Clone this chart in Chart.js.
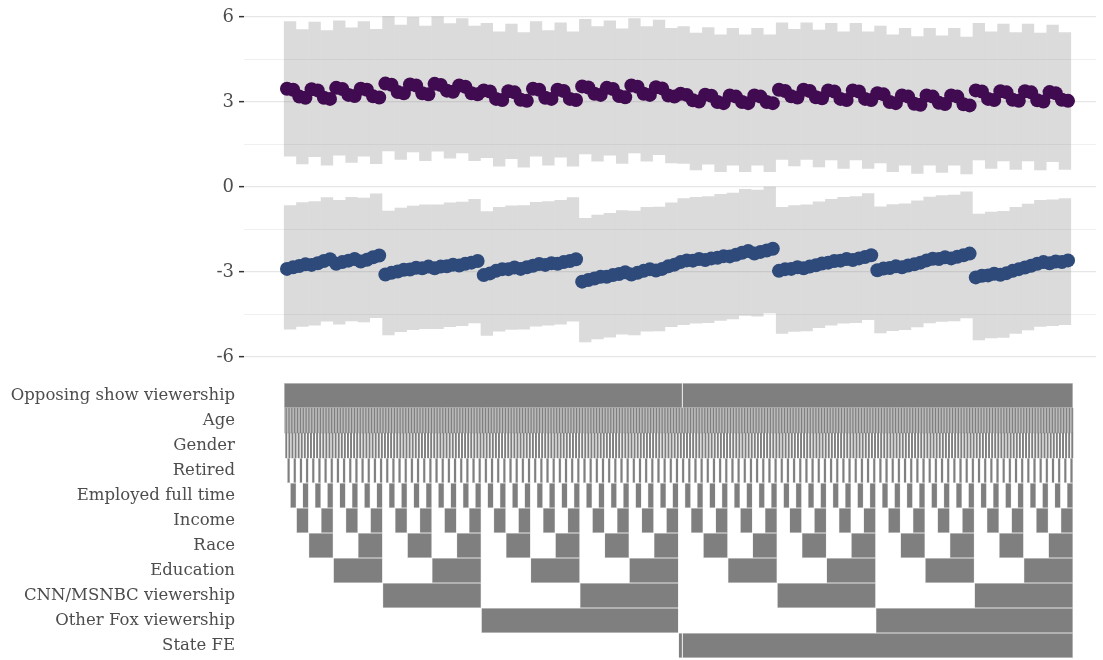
<!DOCTYPE html>
<html><head><meta charset="utf-8">
<script src="https://cdn.jsdelivr.net/npm/chart.js@4.4.1/dist/chart.umd.min.js"></script>
<style>
html,body{margin:0;padding:0;background:#fff;overflow:hidden;width:1103px;height:660px;}
#top{position:absolute;left:0;top:0;}
#bot{position:absolute;left:0;top:363px;}
</style></head><body>
<canvas id="bot" width="1103" height="317"></canvas>
<canvas id="top" width="1103" height="374"></canvas>
<script>
// ---------- data (specifications 0..1023) ----------
const SPEC_COUNT = 1024;
// estimates, one value per group of 8 specifications (128 groups)
const purpleEst = [
 3.47,3.43, 3.19,3.15, 3.45,3.41, 3.15,3.11, 3.50,3.46, 3.25,3.21, 3.47,3.43, 3.20,3.16,
 3.65,3.61, 3.35,3.31, 3.62,3.58, 3.31,3.27, 3.64,3.60, 3.40,3.36, 3.58,3.54, 3.31,3.27,
 3.41,3.37, 3.11,3.07, 3.38,3.34, 3.08,3.04, 3.47,3.43, 3.15,3.11, 3.43,3.39, 3.11,3.07,
 3.55,3.51, 3.29,3.25, 3.50,3.46, 3.21,3.17, 3.58,3.54, 3.29,3.25, 3.52,3.48, 3.23,3.19,
 3.29,3.25, 3.06,3.02, 3.26,3.22, 3.00,2.96, 3.23,3.19, 3.00,2.96, 3.23,3.19, 3.00,2.96,
 3.43,3.39, 3.20,3.16, 3.43,3.39, 3.17,3.13, 3.41,3.37, 3.11,3.07, 3.41,3.37, 3.11,3.07,
 3.31,3.27, 3.00,2.96, 3.23,3.19, 2.94,2.90, 3.23,3.19, 2.97,2.93, 3.23,3.19, 2.92,2.88,
 3.41,3.37, 3.11,3.07, 3.38,3.34, 3.08,3.04, 3.38,3.34, 3.06,3.02, 3.35,3.31, 3.08,3.04
];
const navyEst = [
 -2.89,-2.83, -2.79,-2.73, -2.75,-2.69, -2.61,-2.55, -2.71,-2.65, -2.60,-2.54, -2.63,-2.57, -2.48,-2.42,
 -3.09,-3.03, -2.98,-2.92, -2.91,-2.85, -2.87,-2.81, -2.87,-2.81, -2.80,-2.74, -2.77,-2.71, -2.67,-2.61,
 -3.11,-3.05, -2.96,-2.90, -2.90,-2.84, -2.89,-2.83, -2.78,-2.72, -2.75,-2.69, -2.71,-2.65, -2.61,-2.55,
 -3.34,-3.28, -3.23,-3.17, -3.17,-3.11, -3.07,-3.01, -3.09,-3.03, -2.96,-2.90, -2.95,-2.89, -2.80,-2.74,
 -2.65,-2.59, -2.60,-2.54, -2.58,-2.52, -2.50,-2.44, -2.45,-2.39, -2.32,-2.26, -2.35,-2.29, -2.24,-2.18,
 -2.96,-2.90, -2.89,-2.83, -2.87,-2.81, -2.76,-2.70, -2.67,-2.61, -2.60,-2.54, -2.58,-2.52, -2.47,-2.41,
 -2.94,-2.88, -2.86,-2.80, -2.83,-2.77, -2.73,-2.67, -2.59,-2.53, -2.54,-2.48, -2.52,-2.46, -2.41,-2.35,
 -3.19,-3.13, -3.12,-3.06, -3.10,-3.04, -2.96,-2.90, -2.84,-2.78, -2.71,-2.65, -2.69,-2.63, -2.65,-2.59
];
// confidence bounds, one value per block of 16 specifications (64 blocks)
const purpleHi = [5.85,5.57,5.83,5.53,5.88,5.63,5.85,5.58, 6.03,5.73,6.00,5.69,6.02,5.78,5.96,5.69,
 5.79,5.49,5.76,5.46,5.85,5.53,5.81,5.49, 5.93,5.67,5.88,5.59,5.96,5.67,5.90,5.61,
 5.67,5.44,5.64,5.38,5.61,5.38,5.61,5.38, 5.81,5.58,5.81,5.55,5.79,5.49,5.79,5.49,
 5.69,5.38,5.61,5.32,5.61,5.35,5.61,5.30, 5.79,5.49,5.76,5.46,5.76,5.44,5.73,5.46];
const purpleLo = [1.08,0.80,1.06,0.76,1.11,0.86,1.08,0.81, 1.26,0.96,1.23,0.92,1.25,1.01,1.19,0.92,
 1.02,0.72,0.99,0.69,1.08,0.76,1.04,0.72, 1.16,0.90,1.11,0.82,1.19,0.90,1.13,0.84,
 0.82,0.59,0.79,0.53,0.76,0.53,0.76,0.53, 0.96,0.73,0.96,0.70,0.94,0.64,0.94,0.64,
 0.84,0.53,0.76,0.47,0.76,0.50,0.76,0.45, 0.94,0.64,0.91,0.61,0.91,0.59,0.88,0.61];
const navyHi = [-0.64,-0.54,-0.50,-0.36,-0.46,-0.35,-0.38,-0.23, -0.84,-0.73,-0.66,-0.62,-0.62,-0.55,-0.52,-0.42,
 -0.86,-0.71,-0.65,-0.64,-0.53,-0.50,-0.46,-0.36, -1.09,-0.98,-0.92,-0.82,-0.84,-0.71,-0.70,-0.55,
 -0.40,-0.35,-0.33,-0.25,-0.20,-0.07,-0.10,0.01, -0.71,-0.64,-0.62,-0.51,-0.42,-0.35,-0.33,-0.22,
 -0.69,-0.61,-0.58,-0.48,-0.34,-0.29,-0.27,-0.16, -0.94,-0.87,-0.85,-0.71,-0.59,-0.46,-0.44,-0.40];
const navyLo = [-5.03,-4.93,-4.89,-4.75,-4.85,-4.74,-4.77,-4.62, -5.23,-5.12,-5.05,-5.01,-5.01,-4.94,-4.91,-4.81,
 -5.25,-5.10,-5.04,-5.03,-4.92,-4.89,-4.85,-4.75, -5.48,-5.37,-5.31,-5.21,-5.23,-5.10,-5.09,-4.94,
 -4.87,-4.82,-4.80,-4.72,-4.67,-4.54,-4.57,-4.46, -5.18,-5.11,-5.09,-4.98,-4.89,-4.82,-4.80,-4.69,
 -5.16,-5.08,-5.05,-4.95,-4.81,-4.76,-4.74,-4.63, -5.41,-5.34,-5.32,-5.18,-5.06,-4.93,-4.91,-4.87];
// y ticks
const yMajorTicks = [-6, -3, 0, 3, 6];
const yMinorTicks = [-4.5, -1.5, 1.5, 4.5];
// indicator panel
const rowLabels = ['Opposing show viewership','Age','Gender','Retired','Employed full time','Income',
  'Race','Education','CNN/MSNBC viewership','Other Fox viewership','State FE'];
// specs per on/off block for the alternating rows
const rowBlockSize = {'Age':1,'Gender':2,'Retired':4,'Employed full time':8,'Income':16,'Race':32,
  'Education':64,'CNN/MSNBC viewership':128,'Other Fox viewership':256};
// explicit included ranges for the remaining rows
const rowRuns = {
  'Opposing show viewership': [[0, 517], [517, 1024]],
  'State FE': [[512, 517], [517, 1024]]
};

// ---------- layout ----------
const W = 1103, PAD_R = 5, X_MIN = -51.9, X_MAX = 1056.4, AXIS_W = 244;
const PX_PER_SPEC = (W - PAD_R - AXIS_W) / (X_MAX - X_MIN);
Chart.defaults.font.family = "'DejaVu Serif', serif";
Chart.defaults.color = '#4d4d4d';

const PURPLE = '#400b50', NAVY = '#2e4a7b', BAND = 'rgba(127,127,127,0.28)';
const pts = arr => arr.map((y, g) => ({x: g * 8 + 4, y}));
const band = (lo, hi) => hi.map((h, b) => ({x: b * 16 + 8, y: [lo[b], h]}));
const ptOpts = {type:'line', showLine:false, pointRadius:7, pointBorderWidth:0, order:0, clip:false};

new Chart(document.getElementById('top'), {
  type: 'bar',
  data: { datasets: [
    Object.assign({data: pts(purpleEst), pointBackgroundColor:PURPLE}, ptOpts),
    Object.assign({data: pts(navyEst), pointBackgroundColor:NAVY}, ptOpts),
    {type:'bar', data: band(purpleLo, purpleHi).concat(band(navyLo, navyHi)), backgroundColor:BAND,
     borderWidth:0, inflateAmount:0, barThickness: 16 * PX_PER_SPEC, order:1, clip:false}
  ]},
  options: {
    responsive:false, animation:false, devicePixelRatio:1, events:[],
    layout:{padding:{left:0, right:PAD_R, top:17, bottom:17}},
    plugins:{legend:{display:false}, tooltip:{enabled:false}},
    scales:{
      x:{type:'linear', min:X_MIN, max:X_MAX, offset:false, display:false},
      y:{type:'linear', min:-6, max:6,
        afterBuildTicks: s => { s.ticks = yMajorTicks.concat(yMinorTicks).sort((a,b)=>a-b).map(v => ({value:v})); },
        afterFit: s => { s.width = AXIS_W; },
        ticks:{ callback: v => yMajorTicks.includes(v) ? String(v) : '', font:{size:18}, color:'#4d4d4d', padding:5 },
        grid:{
          color: c => (c.tick && yMajorTicks.includes(c.tick.value)) ? '#e6e6e6' : '#eeeeee',
          lineWidth: c => (c.tick && yMajorTicks.includes(c.tick.value)) ? 1.3 : 0.9,
          tickColor: c => (c.tick && yMajorTicks.includes(c.tick.value)) ? '#333333' : 'rgba(0,0,0,0)',
          tickLength:5, tickWidth:1.5
        },
        border:{display:false}
      }
    }
  }
});

const tiles = [];
rowLabels.forEach(lab => {
  if (rowRuns[lab]) {
    rowRuns[lab].forEach(r => tiles.push({x: r, y: lab}));
  } else {
    const p = rowBlockSize[lab];
    for (let s = p; s < SPEC_COUNT; s += 2 * p) tiles.push({x: [s, s + p], y: lab});
  }
});
const tileSpan = c => { const r = c.raw && c.raw.x; return r ? r[1] - r[0] : 0; };

new Chart(document.getElementById('bot'), {
  type:'bar',
  data:{ labels: rowLabels, datasets:[{ data: tiles, backgroundColor:'#7f7f7f', borderColor:'#d2d2d2',
    borderWidth: c => tileSpan(c) >= 4 ? 0.5 : 0,
    inflateAmount: c => tileSpan(c) < 4 ? 0.2 : 0,
    borderSkipped:false, barPercentage:1, categoryPercentage:1 }]},
  options:{
    indexAxis:'y', responsive:false, animation:false, devicePixelRatio:1, events:[],
    layout:{padding:{left:0, right:PAD_R, top:20, bottom:22}},
    plugins:{legend:{display:false}, tooltip:{enabled:false}},
    scales:{
      x:{type:'linear', min:X_MIN, max:X_MAX, offset:false, display:false},
      y:{type:'category', labels: rowLabels, afterFit: s => { s.width = AXIS_W; },
        grid:{display:false, drawTicks:false}, border:{display:false},
        ticks:{font:{size:16.5}, color:'#4d4d4d', padding:9, autoSkip:false}}
    }
  }
});
</script>
</body></html>
